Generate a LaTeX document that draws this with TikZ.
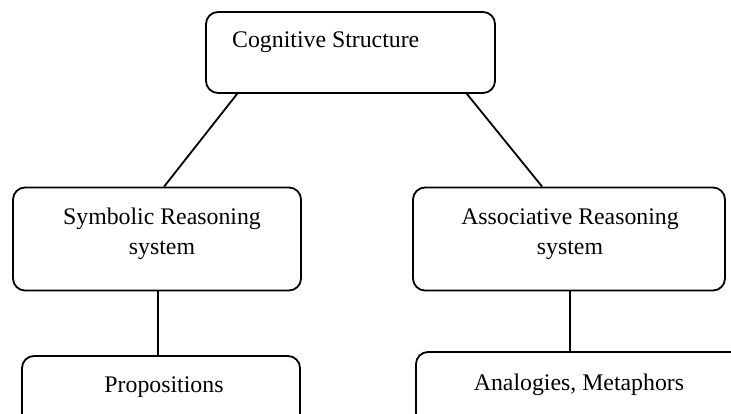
\documentclass[tikz,border=0pt]{standalone}
\usepackage{fontspec}
\setmainfont{Liberation Serif}
\begin{document}
\begin{tikzpicture}[x=1pt,y=-1pt,
  box/.style={draw, line width=1.8pt, rounded corners=12pt, inner sep=0pt},
  link/.style={draw, line width=1.8pt},
  lbl/.style={inner sep=0pt, font=\fontsize{23.8}{30}\selectfont, align=center}]
  \useasboundingbox (0,0) rectangle (731,414);
  \clip (0,0) rectangle (731,414);
  % boxes
  \node[box, minimum width=289pt, minimum height=81pt] (top) at (350.5,52.5) {};
  \node[box, minimum width=288pt, minimum height=103pt] (sym) at (157,239) {};
  \node[box, minimum width=312pt, minimum height=103pt] (asc) at (569,239) {};
  \node[box, minimum width=278pt, minimum height=74pt] (prop) at (161,393) {};
  \node[box, minimum width=344pt, minimum height=78pt] (ana) at (588,391) {};
  % labels
  \node[lbl, anchor=base west] (ttop) at (232,48) {Cognitive Structure};
  \node[lbl] (tsym) at (162,234) {Symbolic Reasoning\\system};
  \node[lbl] (tasc) at (570,234) {Associative Reasoning\\system};
  \node[lbl, anchor=base] (tprop) at (164,392) {Propositions};
  \node[lbl, anchor=base] (tana) at (579,390) {Analogies, Metaphors};
  % connectors
  \draw[link] ([xshift=32pt]top.south west) -- ([xshift=152pt]sym.north west);
  \draw[link] ([xshift=-29pt]top.south east) -- ([xshift=130pt]asc.north west);
  \draw[link] ([xshift=1pt]sym.south) -- ([xshift=1pt]sym.south |- prop.north);
  \draw[link] ([xshift=1pt]asc.south) -- ([xshift=1pt]asc.south |- ana.north);
\end{tikzpicture}
\end{document}
